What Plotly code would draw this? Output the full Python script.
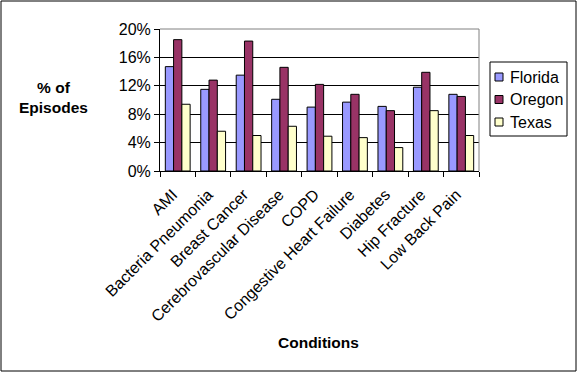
import plotly.graph_objects as go

# data (share of episodes)
conditions = ["AMI", "Bacteria Pneumonia", "Breast Cancer", "Cerebrovascular Disease",
              "COPD", "Congestive Heart Failure", "Diabetes", "Hip Fracture", "Low Back Pain"]
series_names = ["Florida", "Oregon", "Texas"]
florida = [0.147, 0.115, 0.135, 0.101, 0.090, 0.097, 0.091, 0.118, 0.108]
oregon = [0.185, 0.128, 0.183, 0.146, 0.122, 0.108, 0.085, 0.139, 0.105]
texas = [0.094, 0.056, 0.050, 0.063, 0.049, 0.047, 0.033, 0.085, 0.050]
y_ticks = [0, 0.04, 0.08, 0.12, 0.16, 0.20]

colors = ["#9999FF", "#993366", "#FFFFCC"]
FONT = "Liberation Sans, Arial, sans-serif"
W, H = 578, 373
L, R, T, B = 160, 99, 29, 202
pw, ph = W - L - R, H - T - B


def px_x(x):
    return (x - L) / pw


def px_y(y):
    return (H - B - y) / ph


fig = go.Figure()
for name, vals, col in zip(series_names, [florida, oregon, texas], colors):
    fig.add_trace(go.Bar(x=conditions, y=vals, name=name, showlegend=False,
                         marker=dict(color=col, line=dict(color="black", width=1))))

shapes = [
    # plot area border top/right in gray
    dict(type="line", xref="paper", yref="paper", x0=0, x1=1, y0=1, y1=1,
         line=dict(color="#808080", width=1), layer="above"),
    dict(type="line", xref="paper", yref="paper", x0=1, x1=1, y0=0, y1=1,
         line=dict(color="#808080", width=1), layer="above"),
    # outer chart border
    dict(type="rect", xref="paper", yref="paper",
         x0=px_x(1), x1=px_x(576), y0=px_y(371), y1=px_y(1),
         line=dict(color="black", width=1)),
    # legend box
    dict(type="rect", xref="paper", yref="paper",
         x0=px_x(490), x1=px_x(567), y0=px_y(136), y1=px_y(62),
         line=dict(color="black", width=1), fillcolor="white"),
]
annotations = [
    dict(text="<b>% of<br>Episodes</b>", xref="paper", yref="paper",
         x=px_x(53), y=px_y(97), xanchor="center", yanchor="middle",
         showarrow=False, align="center", font=dict(size=15.5)),
    dict(text="<b>Conditions</b>", xref="paper", yref="paper",
         x=px_x(318), y=px_y(342), xanchor="center", yanchor="middle",
         showarrow=False, font=dict(size=15.5)),
]

# hand-built legend, matching the compact Excel style
for i, (name, col) in enumerate(zip(series_names, colors)):
    cy = 77 + i * 22.5
    shapes.append(dict(type="rect", xref="paper", yref="paper",
                       x0=px_x(495), x1=px_x(503), y0=px_y(cy + 4), y1=px_y(cy - 4),
                       fillcolor=col, line=dict(color="black", width=1)))
    annotations.append(dict(text=name, xref="paper", yref="paper",
                            x=px_x(508), y=px_y(cy), xanchor="left", yanchor="middle",
                            showarrow=False, font=dict(size=16)))

fig.update_layout(
    width=W, height=H,
    margin=dict(l=L, r=R, t=T, b=B, autoexpand=False),
    paper_bgcolor="white", plot_bgcolor="white",
    font=dict(family=FONT, size=15, color="black"),
    barmode="group", bargap=0.3, bargroupgap=0,
    xaxis=dict(tickangle=-45, showline=True, linecolor="black", linewidth=1,
               ticks="outside", tickson="boundaries", ticklen=5, tickcolor="black",
               showgrid=False, tickfont=dict(size=16), automargin=False,
               ticklabelstandoff=7, ticklabelshift=-5),
    yaxis=dict(range=[0, 0.2], tickvals=y_ticks, tickformat=".0%",
               showline=True, linecolor="black", linewidth=1,
               ticks="outside", ticklen=5, tickcolor="black",
               gridcolor="black", gridwidth=1, zeroline=False,
               tickfont=dict(size=16), automargin=False),
    shapes=shapes,
    annotations=annotations,
)

fig.write_html("out.html", config={"displayModeBar": False},
               post_script="document.body.style.margin='0px';")
